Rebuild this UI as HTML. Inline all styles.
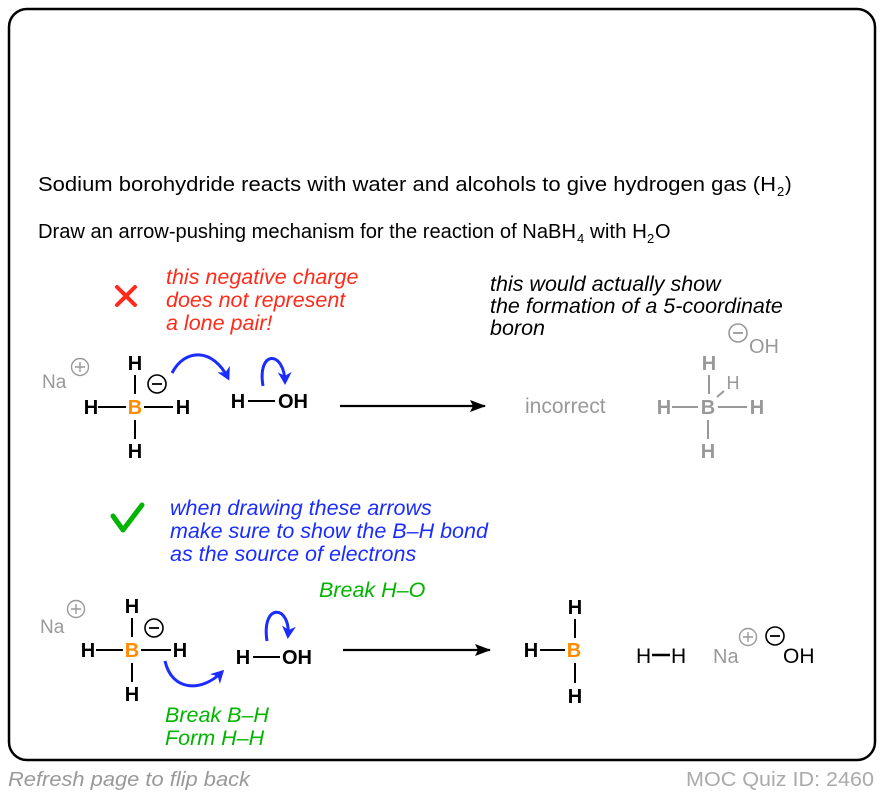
<!DOCTYPE html>
<html><head><meta charset="utf-8"><style>
html,body{margin:0;padding:0;background:#fff;}
svg{display:block;font-family:"Liberation Sans",Arial,sans-serif;}
.b{font-weight:bold;font-size:20px;}
</style></head><body>
<svg width="882" height="796" viewBox="0 0 882 796" xmlns="http://www.w3.org/2000/svg">
<defs>
<marker id="ab" markerWidth="14" markerHeight="14" refX="10" refY="7" orient="auto" markerUnits="userSpaceOnUse"><path d="M0,0 L13,7 L0,14 L4,7 Z" fill="#1a2cff"/></marker>
<marker id="ak" markerWidth="16" markerHeight="12" refX="15" refY="6" orient="auto" markerUnits="userSpaceOnUse"><path d="M0,0 L16,6 L0,12 L3,6 Z" fill="#000"/></marker>
</defs>
<rect x="9" y="9" width="866" height="751" rx="18" fill="#fff" stroke="#000" stroke-width="2.5"/>

<text x="38" y="191" font-size="20" textLength="738" lengthAdjust="spacingAndGlyphs">Sodium borohydride reacts with water and alcohols to give hydrogen gas (H</text>
<text x="777" y="196" font-size="13">2</text><text x="785" y="191" font-size="20">)</text>
<text x="38" y="238" font-size="20" textLength="538" lengthAdjust="spacingAndGlyphs">Draw an arrow-pushing mechanism for the reaction of NaBH</text>
<text x="577" y="243" font-size="13">4</text>
<text x="590" y="238" font-size="20" textLength="57" lengthAdjust="spacingAndGlyphs">with H</text>
<text x="647" y="243" font-size="13">2</text><text x="655" y="238" font-size="20">O</text>

<!-- red X -->
<path d="M117,287 L135,305 M135,287 L117,305" stroke="#ff2a1a" stroke-width="4" stroke-linecap="round"/>
<g fill="#ff2a1a" font-size="21.5" font-style="italic">
<text x="166" y="284">this negative charge</text>
<text x="166" y="307">does not represent</text>
<text x="166" y="330">a lone pair!</text>
</g>
<g fill="#000" font-size="21.5" font-style="italic">
<text x="490" y="291">this would actually show</text>
<text x="490" y="313">the formation of a 5-coordinate</text>
<text x="490" y="335">boron</text>
</g>

<!-- top reactant -->
<text x="42" y="388" font-size="19" fill="#999">Na</text>
<circle cx="80" cy="367" r="8.5" fill="none" stroke="#999" stroke-width="1.4"/><path d="M75,367h10M80,362v10" stroke="#999" stroke-width="1.4"/>
<g class="b" text-anchor="middle">
<text x="135" y="370">H</text>
<text x="135" y="414" fill="#ff8c00">B</text>
<text x="91" y="414">H</text>
<text x="183" y="414">H</text>
<text x="135" y="458">H</text>
</g>
<path d="M135,375V394M135,420V439M98,407H126M144,407H173" stroke="#000" stroke-width="2"/>
<circle cx="157" cy="384" r="9" fill="none" stroke="#000" stroke-width="1.6"/><path d="M152,384h10" stroke="#000" stroke-width="1.8"/>
<text x="238" y="408" class="b" text-anchor="middle">H</text>
<path d="M248,401H275" stroke="#000" stroke-width="2"/>
<text x="278" y="408" class="b">OH</text>
<path d="M172,373 C185,348 213,348 228,378" fill="none" stroke="#1a2cff" stroke-width="3" marker-end="url(#ab)"/>
<path d="M263,386 C257,350 284,350 285,382" fill="none" stroke="#1a2cff" stroke-width="3" marker-end="url(#ab)"/>
<path d="M340,406H485" stroke="#000" stroke-width="2.2" marker-end="url(#ak)"/>
<text x="525" y="413" font-size="21" fill="#999">incorrect</text>

<!-- gray BH5 -->
<g class="b" text-anchor="middle" fill="#999">
<text x="709" y="370">H</text>
<text x="708" y="414">B</text>
<text x="664" y="414">H</text>
<text x="757" y="414">H</text>
<text x="708" y="458">H</text>
</g>
<text x="733" y="389" font-size="18" fill="#999" text-anchor="middle">H</text>
<path d="M709,375V394M708,420V439M672,407H698M718,407H747M717,397L724,391" stroke="#999" stroke-width="2"/>
<circle cx="738" cy="333" r="9" fill="none" stroke="#999" stroke-width="1.6"/><path d="M733,333h10" stroke="#999" stroke-width="1.8"/>
<text x="749" y="353" font-size="20" fill="#999">OH</text>

<!-- check -->
<path d="M113,516 L123,530 L142,505" fill="none" stroke="#00b400" stroke-width="5" stroke-linecap="round" stroke-linejoin="round"/>
<g fill="#1a2cff" font-size="21.5" font-style="italic">
<text x="170" y="515">when drawing these arrows</text>
<text x="170" y="538">make sure to show the B–H bond</text>
<text x="170" y="561">as the source of electrons</text>
</g>

<!-- bottom reactant -->
<text x="40" y="633" font-size="19" fill="#999">Na</text>
<circle cx="76" cy="609" r="8.5" fill="none" stroke="#999" stroke-width="1.4"/><path d="M71,609h10M76,604v10" stroke="#999" stroke-width="1.4"/>
<g class="b" text-anchor="middle">
<text x="132" y="613">H</text>
<text x="132" y="657" fill="#ff8c00">B</text>
<text x="88" y="657">H</text>
<text x="180" y="657">H</text>
<text x="132" y="701">H</text>
</g>
<path d="M132,618V637M132,663V682M96,650H123M141,650H171" stroke="#000" stroke-width="2"/>
<circle cx="154" cy="628" r="9" fill="none" stroke="#000" stroke-width="1.6"/><path d="M149,628h10" stroke="#000" stroke-width="1.8"/>
<text x="319" y="597" font-size="21.5" font-style="italic" fill="#00b400">Break H–O</text>
<text x="243" y="664" class="b" text-anchor="middle">H</text>
<path d="M253,657H280" stroke="#000" stroke-width="2"/>
<text x="282" y="664" class="b">OH</text>
<path d="M165,661 C172,692 202,692 222,672" fill="none" stroke="#1a2cff" stroke-width="3" marker-end="url(#ab)"/>
<path d="M267,641 C261,602 291,605 288,636" fill="none" stroke="#1a2cff" stroke-width="3" marker-end="url(#ab)"/>
<g fill="#00b400" font-size="21.5" font-style="italic">
<text x="165" y="722">Break B–H</text>
<text x="165" y="745">Form H–H</text>
</g>
<path d="M343,650H490" stroke="#000" stroke-width="2.2" marker-end="url(#ak)"/>

<!-- products -->
<g class="b" text-anchor="middle">
<text x="575" y="614">H</text>
<text x="574" y="657" fill="#ff8c00">B</text>
<text x="531" y="657">H</text>
<text x="575" y="703">H</text>
</g>
<path d="M575,619V638M575,663V683M540,650H565" stroke="#000" stroke-width="2"/>
<text x="636" y="663" font-size="21">H</text>
<path d="M652,655H670" stroke="#000" stroke-width="2.6"/>
<text x="671" y="663" font-size="21">H</text>
<text x="713" y="663" font-size="20" fill="#999">Na</text>
<circle cx="748" cy="637" r="8.5" fill="none" stroke="#999" stroke-width="1.4"/><path d="M743,637h10M748,632v10" stroke="#999" stroke-width="1.4"/>
<circle cx="775" cy="636" r="9" fill="none" stroke="#000" stroke-width="1.6"/><path d="M770,636h10" stroke="#000" stroke-width="1.8"/>
<text x="783" y="663" font-size="21">OH</text>

<!-- footer -->
<text x="8" y="786" font-size="20" font-style="italic" fill="#999" textLength="242" lengthAdjust="spacingAndGlyphs">Refresh page to flip back</text>
<text x="874" y="786" font-size="20" fill="#aaa" text-anchor="end" textLength="188" lengthAdjust="spacingAndGlyphs">MOC Quiz ID: 2460</text>
</svg>
</body></html>
